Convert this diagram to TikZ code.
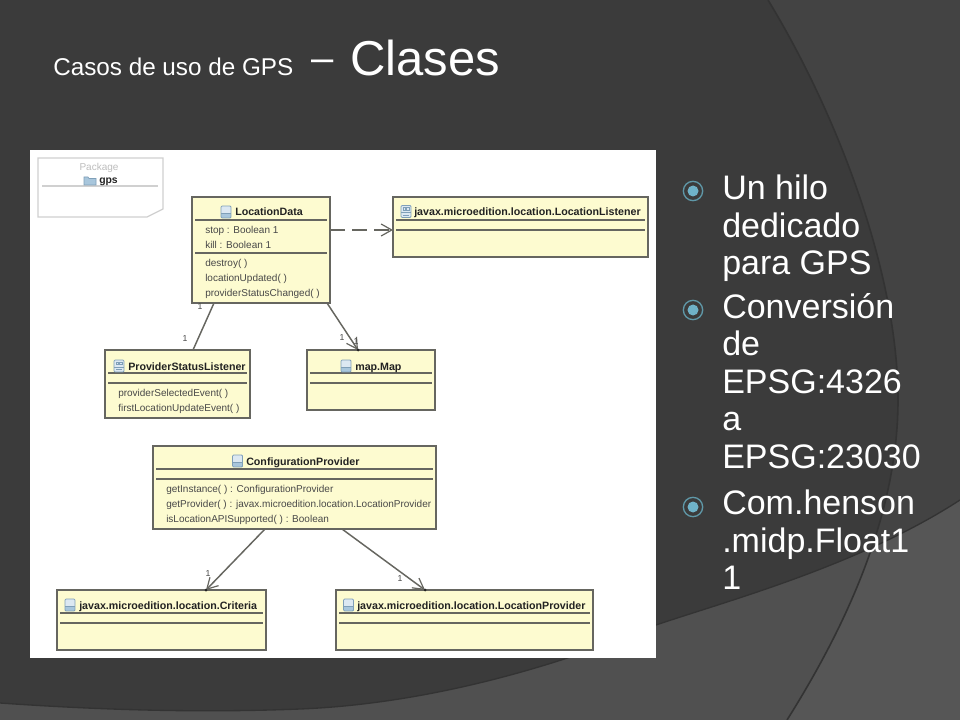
\documentclass[tikz,border=0pt]{standalone}
\usepackage{fontspec}
\setmainfont{Liberation Sans}
\usetikzlibrary{arrows.meta}
\definecolor{bgtop}{HTML}{3B3B3B}
\definecolor{bgarc}{HTML}{434343}
\definecolor{bglow}{HTML}{505050}
\definecolor{bglowr}{HTML}{565656}
\definecolor{edgedark}{HTML}{333333}
\definecolor{umlfill}{HTML}{FDFBD0}
\definecolor{umlline}{HTML}{666660}
\definecolor{umltext}{HTML}{484848}
\definecolor{umlname}{HTML}{222222}
\definecolor{pkgline}{HTML}{D0D0D0}
\definecolor{pkgtext}{HTML}{BDBDBD}
\definecolor{iconlt}{HTML}{DCE8F2}
\definecolor{iconmd}{HTML}{A8C6DC}
\definecolor{icondk}{HTML}{7F9FB8}
\definecolor{bulring}{HTML}{5F98A8}
\definecolor{buldot}{HTML}{6FB2C8}
\tikzset{
  wh/.style 2 args={minimum width=#1*0.75pt, minimum height=#2*0.75pt},
  umlbox/.style={draw=umlline, fill=umlfill, line width=1.1pt, inner sep=0pt, outer sep=0pt, anchor=north west},
  umlrule/.style={draw=umlline, line width=1pt},
  umlnm/.style={anchor=base west, inner sep=0pt, text=umlname, font=\bfseries\fontsize{8}{9.6}\selectfont},
  umlmem/.style={anchor=base west, inner sep=0pt, text=umltext, font=\fontsize{7.5}{9}\selectfont},
  mult/.style={inner sep=0pt, text=umltext, font=\fontsize{6.5}{8}\selectfont},
  assoc/.style={draw=umlline, line width=1.1pt},
  openarrow/.style={-{Straight Barb[length=8pt,width=9pt,line width=0.9pt]}},
  bodytext/.style={anchor=north west, inner sep=0pt, text=white, align=left, font=\fontsize{25.5}{28.1}\selectfont},
  bul/.style={circle, draw=bulring, line width=1pt, fill=bgtop, minimum size=14.5pt, inner sep=0pt},
}
\newcommand{\umlsep}[2]{\draw[umlrule] ([shift={(3,#2)}]#1.north west) -- ([shift={(-3,#2)}]#1.north east);}
\newcommand{\clsicon}[2]{\begin{scope}[shift={(#1,#2)}]
  \fill[iconlt] (-5,-6) rectangle (5,1);
  \fill[iconmd] (-5,1) rectangle (5,6);
  \draw[icondk, line width=0.6pt, rounded corners=0.8pt] (-5,-6) rectangle (5,6);
  \draw[icondk, line width=0.5pt] (-5,1) -- (5,1);
\end{scope}}
\newcommand{\ificon}[2]{\begin{scope}[shift={(#1,#2)}]
  \fill[iconlt] (-5,-6) rectangle (5,6);
  \draw[icondk, line width=0.6pt, rounded corners=0.8pt] (-5,-6) rectangle (5,6);
  \draw[icondk, line width=0.5pt] (-2.8,-4) rectangle (-0.6,-1.6) (0.8,-4) rectangle (3,-1.6);
  \draw[icondk, line width=0.5pt] (-5,1) -- (5,1) (-3,3.5) -- (3,3.5);
\end{scope}}
\begin{document}
\begin{tikzpicture}[x=0.75pt,y=-0.75pt]
\useasboundingbox (0,0) rectangle (960,720);
% background
\fill[bgtop] (0,0) rectangle (960,720);
\def\arcpath{(768,0) .. controls (835,110) and (898,270) .. (898,400) .. controls (898,510) and (850,620) .. (787,720)}
\def\lowpath{(0,703) .. controls (100,710) and (200,713) .. (300,709) .. controls (450,703) and (590,653) .. (656,625) .. controls (730,600) and (860,565) .. (960,500)}
\fill[bgarc] \arcpath -- (960,720) -- (960,0) -- cycle;
\fill[bglow] \lowpath -- (960,720) -- (0,720) -- cycle;
\begin{scope}
  \clip \lowpath -- (960,720) -- (0,720) -- cycle;
  \fill[bglowr] \arcpath -- (960,720) -- (960,0) -- cycle;
\end{scope}
\draw[edgedark, line width=1.2pt] \arcpath;
\draw[edgedark, line width=1pt] \lowpath;
% title
\node[anchor=base west, inner sep=0pt, text=white, font=\fontsize{36.75}{40}\selectfont] (title) at (53,76)
  {{\fontsize{18.2}{20}\selectfont Casos de uso de GPS}\hspace{13.5pt}\raisebox{3pt}{\fontsize{30}{30}\selectfont –}\hspace{12.5pt}Clases};
% picture panel
\fill[white] (30,150) rectangle (656,658);
% package
\draw[pkgline, line width=0.9pt, fill=white] (38,158) -- (163,158) -- (163,209) -- (147,217) -- (38,217) -- cycle;
\draw[pkgline, line width=0.9pt] (42,186) -- (158,186);
\node[inner sep=0pt, text=pkgtext, font=\fontsize{7.5}{9}\selectfont] (pkglabel) at (99,168) {Package};
\node[umlnm, font=\bfseries\fontsize{7.8}{9}\selectfont] (pkgname) at (99,184) {gps};
\fill[iconmd, draw=icondk, line width=0.5pt] (84,177) -- (88,177) -- (89,178.5) -- (96,178.5) -- (96,185) -- (84,185) -- cycle;
% classes
\node[umlbox, wh={138}{106}] (ld) at (192,197) {};
\umlsep{ld}{23}\umlsep{ld}{56}
\clsicon{226}{212}
\node[umlnm] (ldn) at (235,216) {LocationData};
\node[umlmem] (ld1) at (205,233.5) {stop : Boolean 1};
\node[umlmem] (ld2) at (205,248.5) {kill : Boolean 1};
\node[umlmem] (ld3) at (205,266.5) {destroy( )};
\node[umlmem] (ld4) at (205,281.5) {locationUpdated( )};
\node[umlmem] (ld5) at (205,296.5) {providerStatusChanged( )};

\node[umlbox, wh={255}{60}] (ll) at (393,197) {};
\umlsep{ll}{23}\umlsep{ll}{33}
\ificon{406}{211.5}
\node[umlnm] (lln) at (414,216) {javax.microedition.location.LocationListener};

\node[umlbox, wh={145}{68}] (psl) at (105,350) {};
\umlsep{psl}{23}\umlsep{psl}{33}
\ificon{119}{366}
\node[umlnm] (psln) at (128,370) {ProviderStatusListener};
\node[umlmem] (psl1) at (118,396.5) {providerSelectedEvent( )};
\node[umlmem] (psl2) at (118,411.5) {firstLocationUpdateEvent( )};

\node[umlbox, wh={128}{60}] (mp) at (307,350) {};
\umlsep{mp}{23}\umlsep{mp}{33}
\clsicon{346}{366}
\node[umlnm] (mpn) at (355,370) {map.Map};

\node[umlbox, wh={283}{83}] (cp) at (153,446) {};
\umlsep{cp}{23}\umlsep{cp}{33}
\clsicon{237.5}{461}
\node[umlnm] (cpn) at (246,465) {ConfigurationProvider};
\node[umlmem] (cp1) at (166,492.5) {getInstance( ) : ConfigurationProvider};
\node[umlmem] (cp2) at (166,507.5) {getProvider( ) : javax.microedition.location.LocationProvider};
\node[umlmem] (cp3) at (166,522.5) {isLocationAPISupported( ) : Boolean};

\node[umlbox, wh={209}{60}] (cr) at (57,590) {};
\umlsep{cr}{23}\umlsep{cr}{33}
\clsicon{70}{605}
\node[umlnm] (crn) at (79,609) {javax.microedition.location.Criteria};

\node[umlbox, wh={257}{60}] (lp) at (336,590) {};
\umlsep{lp}{23}\umlsep{lp}{33}
\clsicon{348.5}{605}
\node[umlnm] (lpn) at (357,609) {javax.microedition.location.LocationProvider};
% connector ends
\coordinate (mptip) at ([shift={(51,0)}]mp.north west);
\coordinate (crtip) at ([shift={(149,0)}]cr.north west);
\coordinate (lptip) at ([shift={(89,0)}]lp.north west);
% connectors
\draw[assoc, dash pattern=on 11pt off 5.5pt, openarrow] ([shift={(0,33)}]ld.north east) -- ([shift={(0,33)}]ll.north west);
\draw[assoc] ([shift={(22,0)}]ld.south west) -- ([shift={(88,0)}]psl.north west);
\draw[assoc, openarrow] ([shift={(135,0)}]ld.south west) -- (mptip);
\draw[assoc, openarrow] ([shift={(112,0)}]cp.south west) -- (crtip);
\draw[assoc, openarrow] ([shift={(189,0)}]cp.south west) -- (lptip);
\fill[umlname] (mptip) circle (1.5) (crtip) circle (1.5) (lptip) circle (1.5);
% multiplicities
\node[mult] (m1) at (200,307) {1};
\node[mult] (m2) at (185,339) {1};
\node[mult] (m3) at (342,338) {1};
\node[mult] (m4) at (356,342) {1};
\node[mult] (m5) at (208,574) {1};
\node[mult] (m6) at (400,579) {1};
% bullets and body
\node[bul] (b1) at (693,191) {};
\fill[buldot] (b1) circle (5.5);
\node[bul] (b2) at (693,310) {};
\fill[buldot] (b2) circle (5.5);
\node[bul] (b3) at (693,507) {};
\fill[buldot] (b3) circle (5.5);
\node[bodytext] (t1) at (722,175) {Un hilo\\dedicado\\para GPS};
\node[bodytext] (t2) at (722,293) {Conversión\\de\\EPSG:4326\\a\\EPSG:23030};
\node[bodytext] (t3) at (722,490) {Com.henson\\.midp.Float1\\1};
\end{tikzpicture}
\end{document}
